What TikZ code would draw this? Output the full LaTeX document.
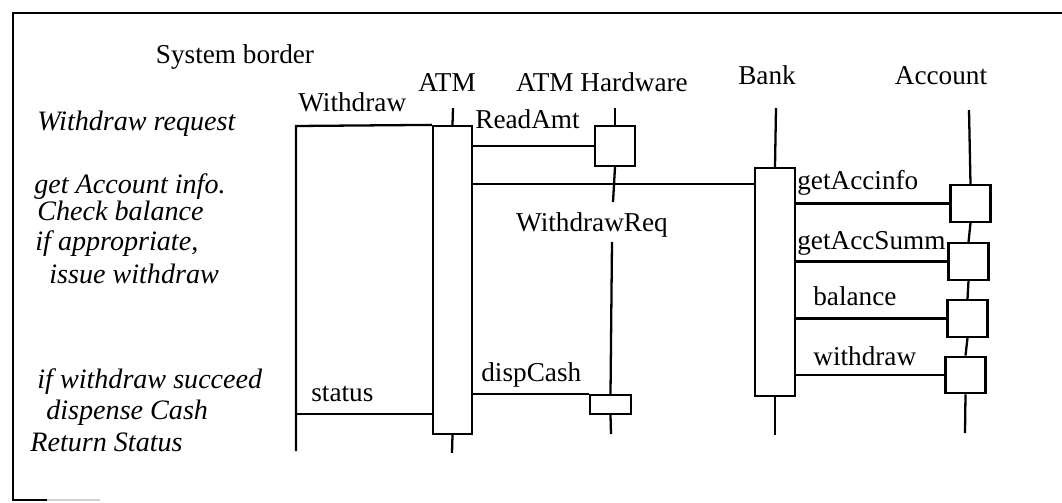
\documentclass[tikz,border=0pt]{standalone}
\usepackage{fontspec}
\setmainfont{Liberation Serif}
\usetikzlibrary{positioning}

\begin{document}
\begin{tikzpicture}[x=0.02cm,y=-0.02cm,
  ln/.style={line width=1.3pt},
  act/.style={rectangle,draw,line width=1.3pt,inner sep=0pt,minimum width=0.78cm},
  accbox/.style={act,minimum width=0.8cm,minimum height=0.73cm},
  lbl/.style={inner sep=0pt,anchor=base,font=\fontsize{15.5}{18}\selectfont},
  msg/.style={inner sep=0pt,anchor=base west,font=\fontsize{15.5}{18}\selectfont},
  note/.style={inner sep=0pt,anchor=base west,font=\fontsize{16}{18}\selectfont\itshape}
]
\useasboundingbox (0,0) rectangle (1062,503);

% frame
\draw[line width=1.4pt] (47,500) -- (13,500) -- (13,13) -- (1062,13);
\draw[gray!35,line width=1pt] (47,500) -- (100,500);

% headers
\node[lbl] (sysb) at (235,64) {System border};
\node[lbl] (hatm) at (447,92) {ATM};
\node[lbl] (hhw) at (602,92) {ATM Hardware};
\node[lbl] (hbank) at (767,85) {Bank};
\node[lbl] (hacc) at (941,85) {Account};

% notes
\node[note] (n1) at (37,131) {Withdraw request};
\node[note] (n2) at (34,194) {get Account info.};
\node[note] (n3) at (37,221) {Check balance};
\node[note] (n4) at (35,251) {if appropriate,};
\node[note] (n5) at (49,284) {issue withdraw};
\node[note] (n6) at (37,388) {if withdraw succeed};
\node[note] (n7) at (46,419) {dispense Cash};
\node[note] (n8) at (30,451) {Return Status};

% activation boxes
\node[act,minimum height=6.16cm] (atm) at (452.5,280) {};
\node[act,minimum width=0.8cm,minimum height=0.8cm] (hw1) at (615,146) {};
\node[act,minimum width=0.82cm,minimum height=0.38cm] (hw2) at (610.5,404.5) {};
\node[act,minimum width=0.8cm,minimum height=4.56cm] (bank) at (775,282) {};
\foreach \n/\x/\y in {1/970.5/203.5,2/968.5/261.5,3/967.5/318.5,4/965.5/375}
  \node[accbox] (acc\n) at (\x,\y) {};

% lifelines
\coordinate (atmtop) at (453,108);
\coordinate (atmbot) at (452,453);
\coordinate (hwtop) at (615,108);
\coordinate (hwgapa) at (613,202);
\coordinate (hwgapb) at (612,242);
\coordinate (hwbot) at (611,434);
\coordinate (banktop) at (776,108);
\coordinate (bankbot) at (775,435);
\coordinate (acctop) at (969,110);
\coordinate (accbot) at (965,433);
\draw[ln] (atmtop) -- (atm.north);
\draw[ln] (atm.south) -- (atmbot);
\draw[ln] (hwtop) -- (hw1.north);
\draw[ln] (hw1.south) -- (hwgapa);
\draw[ln] (hwgapb) -- (hw2.north);
\draw[ln] (hw2.south) -- (hwbot);
\draw[ln] (banktop) -- (bank.north);
\draw[ln] (bank.south) -- (bankbot);
\draw[ln] (acctop) -- (acc1.north);
\draw[ln] (acc1.south) -- (acc2.north);
\draw[ln] (acc2.south) -- (acc3.north);
\draw[ln] (acc3.south) -- (acc4.north);
\draw[ln] (acc4.south) -- (accbot);

% user side
\coordinate (usrtop) at (296,126);
\coordinate (usrbot) at (296,451);
\coordinate (usrstat) at (296,414);
\draw[ln] (usrbot) -- (usrtop) -- (atm.north west);
\draw[ln] (usrstat) -- (atm.west |- usrstat);

% messages
\coordinate (wreq) at (0,184);
\draw[ln] (atm.east |- hw1) -- (hw1.west);
\draw[ln] (atm.east |- wreq) -- (bank.west |- wreq);
\draw[ln] (atm.east |- hw2.north) -- (hw2.north west);
\foreach \n in {1,...,4}
  \draw[ln] (bank.east |- acc\n) -- (acc\n.west);

% message labels
\node[msg] (lwd) at (298,112) {Withdraw};
\node[msg] (lread) at (475,129) {ReadAmt};
\node[lbl] (lwreq) at (592,232) {WithdrawReq};
\node[msg] (ldisp) at (481,381) {dispCash};
\node[msg] (lstat) at (311,401) {status};
\node[msg] (linfo) at (797,190) {getAccinfo};
\node[msg] (lsumm) at (797,250) {getAccSumm};
\node[msg] (lbal) at (813,306) {balance};
\node[msg] (lwdr) at (813,365) {withdraw};
\end{tikzpicture}
\end{document}
